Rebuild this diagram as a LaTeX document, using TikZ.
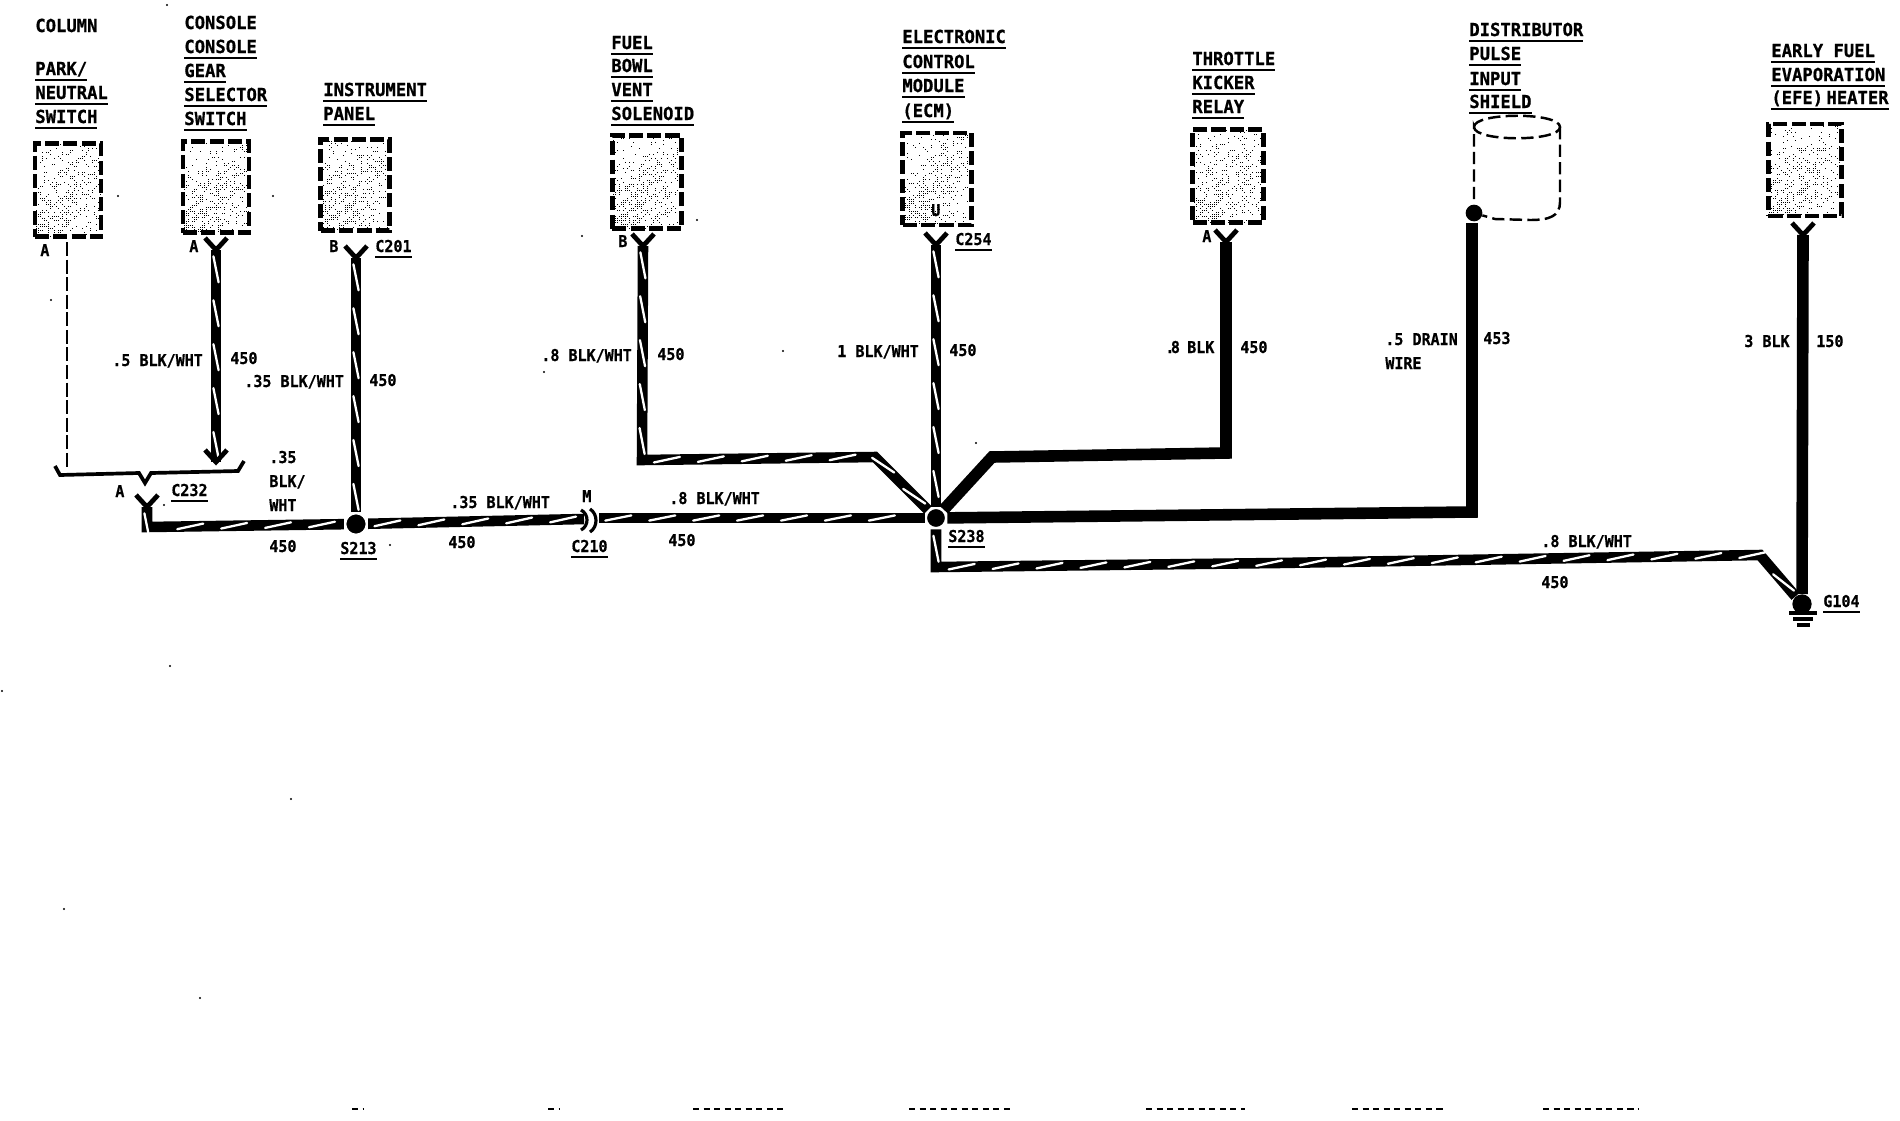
\documentclass[tikz,border=0pt]{standalone}
\usepackage{fontspec}
\usepackage{tikz}
\usetikzlibrary{decorations.markings}
\newfontfamily\ttlfont[FakeStretch=0.96, BoldFeatures={FakeBold=0.8}]{DejaVu Sans Mono}
\newfontfamily\wlfont[FakeStretch=0.92, BoldFeatures={FakeBold=0.6}]{DejaVu Sans Mono}
\newcommand{\ulbl}[1]{\sbox0{#1}\rlap{\rule[-3.6pt]{\wd0}{1.6pt}}\box0}
\newcommand{\wirefork}[1]{\draw[forkline] (#1) ++(-11,-12) -- ++(11,12) -- ++(11,-12);}
% blotchy stipple inside a part
\newcommand{\stipple}[3]{%
	\begin{scope}[shift={(#1)}]
		\foreach \ix in {-#2,...,#2} \foreach \iy in {-#3,...,#3} {
			\pgfmathtruncatemacro{\dotson}{rnd<(0.1+0.65*exp(-0.9*(\ix/#2+\iy/#3)*(\ix/#2+\iy/#3))*(0.6+0.4*\iy/#3))*(0.7+0.3*sin(37*\ix+53*\iy))}
			\ifnum\dotson=1 \fill (\ix*2,\iy*2) rectangle +(1,1); \fi
		}
	\end{scope}}

\begin{document}
\begin{tikzpicture}[x=0.02cm, y=-0.02cm, line join=miter]
		\useasboundingbox (0,0) rectangle (1900,1120);
		\pgfmathsetseed{4211}
		\tikzstyle{ttl}=[anchor=base west, inner sep=0pt, font=\ttlfont\bfseries\fontsize{10.2}{12}\selectfont]
		\tikzstyle{wl}=[anchor=base west, inner sep=0pt, font=\wlfont\bfseries\fontsize{9.3}{11}\selectfont]
		\tikzstyle{part}=[draw, line width=2.8pt, dash pattern=on 8pt off 2.4pt, inner sep=0pt]
		\tikzstyle{splice}=[circle, fill=black, draw=white, line width=1.4pt, inner sep=0pt, minimum size=12.4pt]
		\tikzstyle{forkline}=[line width=2.7pt]
		\tikzstyle{solidwire}=[line width=6.6pt]
		\tikzstyle{wire}=[line width=6pt, postaction={decorate, decoration={markings,
			mark=between positions 11pt and -6pt step 25pt with {\draw[white, line width=1.3pt, line cap=round] (-13,2.6) -- (13,-2.6);}}}]

		% parts
		\node[part, minimum width=37.6pt, minimum height=53pt] (park) at (68,190) {};
		\node[part, minimum width=37.6pt, minimum height=52pt] (gear) at (216,187) {};
		\node[part, minimum width=38.8pt, minimum height=52pt] (panel) at (355,185) {};
		\node[part, minimum width=39.4pt, minimum height=53pt] (vent) at (647,182) {};
		\node[part, minimum width=38.8pt, minimum height=52.4pt] (ecm) at (937,179) {};
		\node[part, minimum width=40pt, minimum height=53pt] (kicker) at (1228,176) {};
		\node[part, minimum width=41.6pt, minimum height=52.4pt] (efe) at (1805,170) {};
		\stipple{park}{16}{23}
		\stipple{gear}{16}{22}
		\stipple{panel}{16}{22}
		\stipple{vent}{17}{23}
		\stipple{ecm}{16}{22}
		\stipple{kicker}{17}{23}
		\stipple{efe}{18}{22}

		% shield
		\node[circle, fill=black, inner sep=0pt, minimum size=9.5pt] (drain) at (1474,213) {};
		\draw[line width=1.4pt, dash pattern=on 7pt off 3pt] (1474,127) .. controls (1474,112) and (1560,112) .. (1560,127)
			.. controls (1560,142) and (1474,142) .. (1474,127) -- (drain);
		\draw[line width=1.4pt, dash pattern=on 7pt off 3pt] (1560,127) -- (1560,202) .. controls (1560,216) and (1550,220) .. (1530,220) -- (1495,219) -- (drain);

		% splices
		\node[splice] (s213) at (356,524) {};
		\node[splice, minimum size=11.6pt] (s238) at (936,518) {};
		\node[circle, fill=black, inner sep=0pt, minimum size=11pt] (g104) at (1802,604) {};

		% wire ends and bends
		\coordinate (fgear) at (216,250);
		\coordinate (egear) at (216,462);
		\coordinate (fpanel) at (356,258);
		\coordinate (fvent) at (643,246);
		\coordinate (fecm) at (936,245);
		\coordinate (fkick) at (1226,242);
		\coordinate (fefe) at (1803,235);
		\coordinate (fc232) at (147,507);
		\coordinate (bc232) at (147,527);
		\coordinate (c210a) at (584,519);
		\coordinate (c210b) at (599,518);
		\coordinate (bvent) at (642,460);
		\coordinate (dvent) at (875,457);
		\coordinate (bkick) at (1226,453);
		\coordinate (dkick) at (992,457);
		\coordinate (bdrain) at (1472,512);
		\coordinate (tdrain) at (1472,223);
		\coordinate (blow) at (936,567);
		\coordinate (clow) at (1278,563);
		\coordinate (dlow) at (1760,555);
		\coordinate (pdash) at (67,242);
		\coordinate (edash) at (67,467);

		\draw[line width=0.9pt, dash pattern=on 8pt off 2pt] (pdash) -- (edash);
		\draw[wire] (fgear) -- (egear);
		\draw[wire] (fpanel) -- (s213);
		\draw[wire] (fc232) -- (bc232) -- (s213);
		\draw[wire] (s213) -- (c210a);
		\draw[wire] (c210b) -- (s238);
		\draw[wire] (fvent) -- (bvent) -- (dvent) -- (s238);
		\draw[wire] (fecm) -- (s238);
		\draw[wire] (s238) -- (blow) -- (clow) -- (dlow) -- (g104);
		\draw[solidwire] (s238) -- (dkick) -- (bkick) -- (fkick);
		\draw[solidwire] (s238) -- (bdrain) -- (tdrain);
		\draw[solidwire] (fefe) -- (g104);

		\wirefork{fgear}
		\wirefork{egear}
		\wirefork{fpanel}
		\wirefork{fvent}
		\wirefork{fecm}
		\wirefork{fkick}
		\wirefork{fefe}
		\wirefork{fc232}

		% C232 bracket
		\draw[line width=2.1pt] (55,466) -- (60,475) -- (139,473) -- (145,483) -- (151,473) -- (238,471) -- (244,461);
		% C210
		\draw[line width=1.8pt] (581,510) .. controls (589,514) and (589,526) .. (581,530);
		\draw[line width=1.8pt] (590,509) .. controls (598,514) and (598,527) .. (590,532);
		% ground
		\draw[line width=2.1pt] (1789,613) -- (1817,613);
		\draw[line width=2.1pt] (1793,619) -- (1813,619);
		\draw[line width=2.1pt] (1797,625) -- (1810,625);

		% underlined titles
		\foreach \nm/\xx/\yy/\tx in {tb/35/75/{PARK/}, tc/35/99/{NEUTRAL}, td/35/123/{SWITCH},
			te/184/53/{CONSOLE}, tf/184/77/{GEAR}, tg/184/101/{SELECTOR}, th/184/125/{SWITCH},
			ti/323/96/{INSTRUMENT}, tj/323/120/{PANEL},
			tk/611/49/{FUEL}, tl/611/72/{BOWL}, tm/611/96/{VENT}, tn/611/120/{SOLENOID},
			to/902/43/{ELECTRONIC}, tp/902/68/{CONTROL}, tq/902/92/{MODULE}, tr/902/117/{(ECM)},
			ts/1192/65/{THROTTLE}, tt/1192/89/{KICKER}, tu/1192/113/{RELAY},
			tv/1469/36/{DISTRIBUTOR}, tw/1469/60/{PULSE}, tx/1469/85/{INPUT}, ty/1469/108/{SHIELD},
			tz/1771/57/{EARLY FUEL}, taa/1771/81/{EVAPORATION}, tab/1771/104/{(EFE)\kern-4pt\ HEATER}}
			{\node[ttl] (\nm) at (\xx,\yy) {\ulbl{\tx}};}
		\node[ttl] (ta) at (35,32) {COLUMN};
		\node[ttl] (tcon) at (184,29) {CONSOLE};

		% wire labels
		\foreach \nm/\xx/\yy/\tx in {wa/112/366/{.5 BLK/WHT}, wb/230/364/{450}, wc/244/387/{.35 BLK/WHT}, wd/369/386/{450},
			we/541/361/{.8 BLK/WHT}, wf/657/360/{450}, wg/837/357/{1 BLK/WHT}, wh/949/356/{450},
			wi/1165/353/{.\kern-2pt8\kern-1pt\ BLK}, wj/1240/353/{450}, wk/1385/345/{.5 DRAIN}, wl/1385/369/{WIRE}, wm/1483/344/{453},
			wn/1744/347/{3 BLK}, wo/1816/347/{150}, wp/1541/547/{.8 BLK/WHT}, wq/1541/588/{450},
			wr/669/504/{.8 BLK/WHT}, ws/668/546/{450}, wt/450/508/{.35 BLK/WHT}, wu/448/548/{450},
			wv/269/463/{.35}, ww/269/487/{BLK/}, wx/269/511/{WHT}, wy/269/552/{450},
			pa/40/256/{A}, pb/189/252/{A}, pc/329/252/{B}, pd/618/247/{B}, pe/931/216/{U}, pf/1202/242/{A},
			pg/115/497/{A}, ph/582/502/{M}}
			{\node[wl] (\nm) at (\xx,\yy) {\tx};}

		% connector and splice numbers
		\foreach \nm/\xx/\yy/\tx in {cc/375/252/{C201}, cd/955/245/{C254}, ce/171/496/{C232}, cf/571/552/{C210},
			cg/340/554/{S213}, ch/948/542/{S238}, ci/1823/607/{G104}}
			{\node[wl] (\nm) at (\xx,\yy) {\ulbl{\tx}};}

		% specks and the cut-off line at the foot of the page
		\foreach \xx/\yy in {64/909, 200/998, 291/799, 170/666, 2/691, 167/5, 118/196, 273/196, 582/236, 697/220,
			51/300, 783/351, 976/443, 164/505, 390/545, 544/372}
			\fill (\xx,\yy) circle (1.2);
		\foreach \xa/\xb in {352/364, 548/560, 693/787, 909/1010, 1146/1245, 1352/1445, 1543/1639}
			\draw[line width=1.4pt, dash pattern=on 3.5pt off 2.5pt] (\xa,1109) -- (\xb,1109);
\end{tikzpicture}
\end{document}
